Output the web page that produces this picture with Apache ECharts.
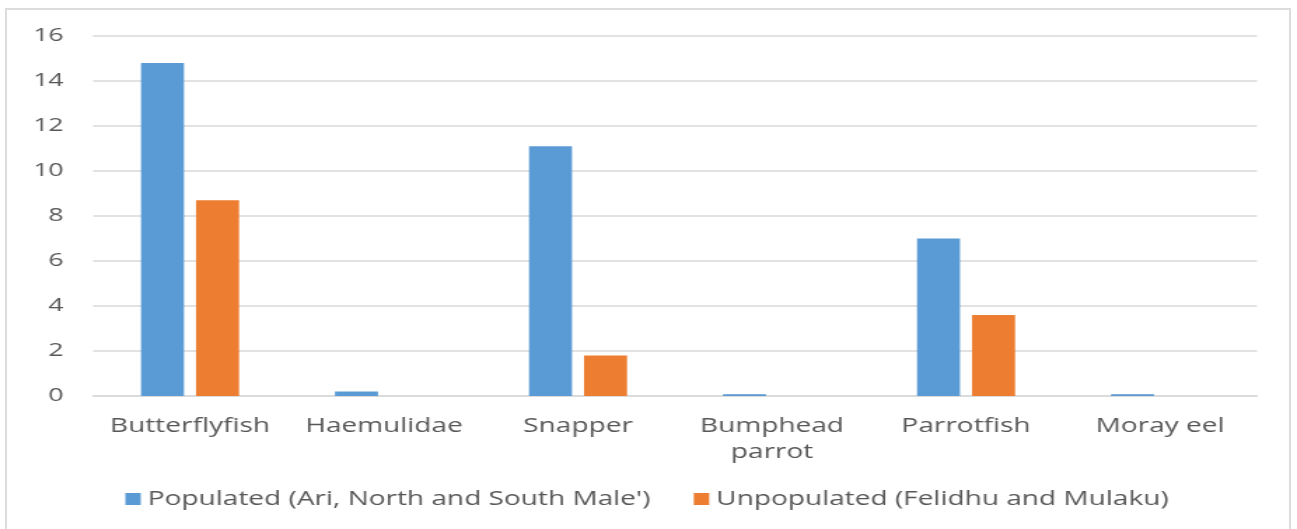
<!DOCTYPE html>
<html>
<head>
<meta charset="utf-8">
<script src="https://cdn.jsdelivr.net/npm/echarts@6/dist/echarts.min.js"></script>
<style>
  html, body { margin: 0; padding: 0; background: #ffffff; overflow: hidden; }
  #wrap { position: relative; width: 1297px; height: 529px; overflow: hidden; background: #fff; }
  #frame { position: absolute; left: 5px; top: 8px; width: 1286px; height: 540px;
           border: 2px solid #dcdcdc; box-sizing: border-box; }
  /* chart is laid out on a narrower canvas and widened horizontally */
  #chart { position: absolute; left: 0; top: 0; width: 926px; height: 529px;
           transform: scaleX(1.4006); transform-origin: 0 0; }
</style>
</head>
<body>
<div id="wrap">
  <div id="frame"></div>
  <div id="chart"></div>
</div>
<script>
const categories = ['Butterflyfish', 'Haemulidae', 'Snapper', 'Bumphead\nparrot', 'Parrotfish', 'Moray eel'];
const populatedName = "Populated (Ari, North and South Male')";
const unpopulatedName = 'Unpopulated (Felidhu and Mulaku)';
const populated = [14.8, 0.2, 11.1, 0.08, 7.0, 0.08];
const unpopulated = [8.7, 0, 1.8, 0, 3.6, 0];
const yTicks = { min: 0, max: 16, interval: 2 };

const textColor = '#575757';
const fontFamily = '"Open Sans", "Noto Sans", sans-serif';

const chart = echarts.init(document.getElementById('chart'), null, { renderer: 'canvas' });
chart.setOption({
  animation: false,
  backgroundColor: 'transparent',
  grid: { left: 66.4, right: 28.5, top: 36, bottom: 133, containLabel: false },
  legend: {
    left: 84.5,
    top: 484,
    itemWidth: 11,
    itemHeight: 12,
    itemGap: 31,
    icon: 'rect',
    textStyle: { color: textColor, fontSize: 20, fontWeight: 500, fontFamily: fontFamily },
    data: [populatedName, unpopulatedName]
  },
  xAxis: {
    type: 'category',
    data: categories,
    axisLine: { lineStyle: { color: '#d9d9d9', width: 1.5 } },
    axisTick: { show: false },
    axisLabel: { color: textColor, fontSize: 20, fontWeight: 500, fontFamily: fontFamily, margin: 17, lineHeight: 26, interval: 0 }
  },
  yAxis: {
    type: 'value',
    min: yTicks.min,
    max: yTicks.max,
    interval: yTicks.interval,
    axisLine: { show: false },
    axisTick: { show: false },
    splitLine: { lineStyle: { color: '#d9d9d9', width: 1.5 } },
    axisLabel: { color: textColor, fontSize: 19, fontWeight: 500, fontFamily: fontFamily, margin: 21 }
  },
  series: [
    {
      name: populatedName,
      type: 'bar',
      data: populated,
      barWidth: 30.7,
      barGap: '28%',
      itemStyle: { color: '#5b9bd5' }
    },
    {
      name: unpopulatedName,
      type: 'bar',
      data: unpopulated,
      barWidth: 30.7,
      barGap: '28%',
      itemStyle: { color: '#ed7d31' }
    }
  ]
});
</script>
</body>
</html>
